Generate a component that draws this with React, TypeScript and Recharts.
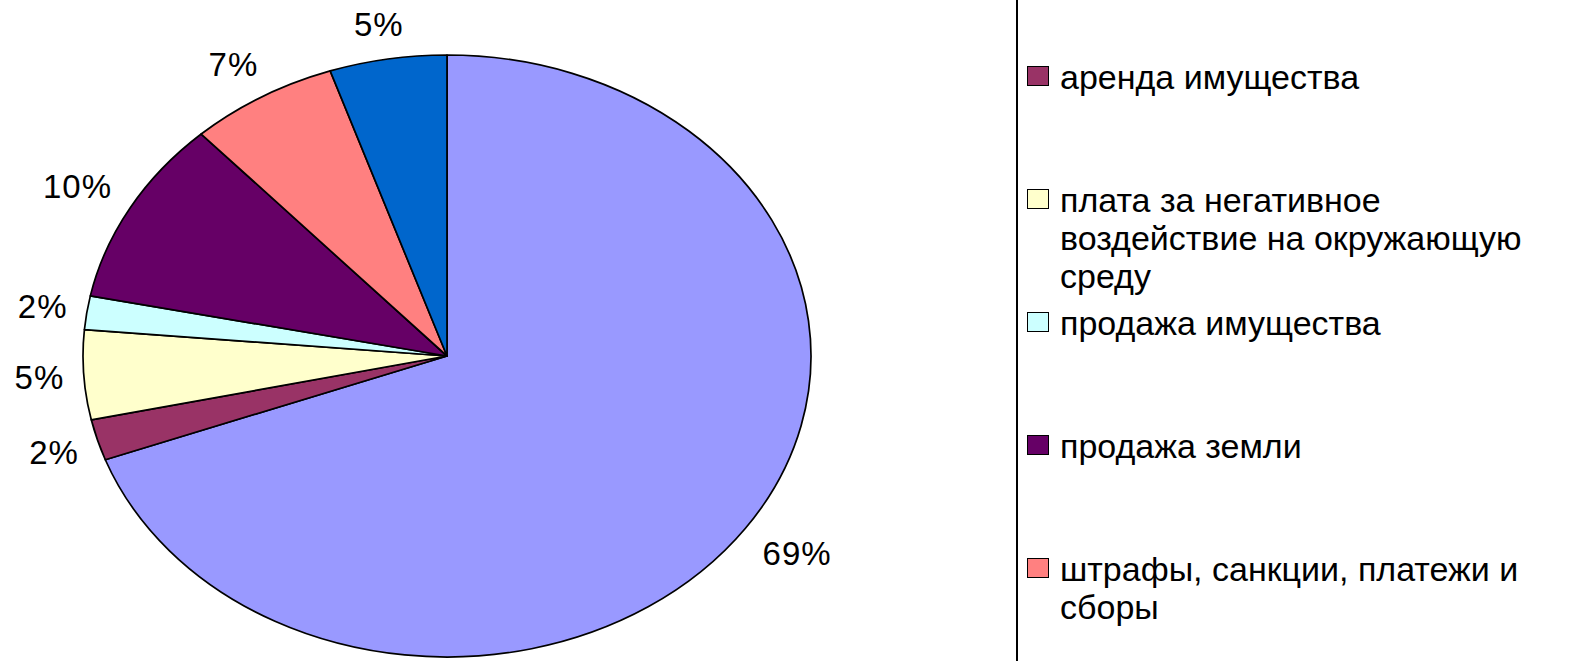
import { PieChart, Pie, Cell, Legend } from 'recharts';

const names = [
  'аренда земли',
  'аренда имущества',
  'плата за негативное воздействие на окружающую среду',
  'продажа имущества',
  'продажа земли',
  'штрафы, санкции, платежи и сборы',
  'прочие доходы',
];
// shares in %
const shares = [69.4, 2.2, 4.8, 1.8, 10.0, 6.6, 5.2];
const colors = ['#9999FF', '#993366', '#FFFFCC', '#CCFFFF', '#660066', '#FF8080', '#0066CC'];

const data = names.map((name, i) => ({ name, value: shares[i] }));

// pie is drawn as an ellipse: horizontal radius stretched
const STRETCH = 364 / 301;
const RAD = Math.PI / 180;
const LABEL_FONT = 33;

function ellipsePoint(cx: number, cy: number, r: number, angle: number) {
  return [cx + r * STRETCH * Math.cos(-angle * RAD), cy + r * Math.sin(-angle * RAD)];
}

function EllipseSector(props: any) {
  const { cx, cy, outerRadius, startAngle, endAngle, fill } = props;
  const [x1, y1] = ellipsePoint(cx, cy, outerRadius, startAngle);
  const [x2, y2] = ellipsePoint(cx, cy, outerRadius, endAngle);
  const large = Math.abs(endAngle - startAngle) > 180 ? 1 : 0;
  const sweep = startAngle > endAngle ? 1 : 0;
  const d = `M${cx},${cy} L${x1},${y1} A${outerRadius * STRETCH},${outerRadius} 0 ${large} ${sweep} ${x2},${y2} Z`;
  return <path d={d} fill={fill} stroke="#000" strokeWidth={1.7} strokeLinejoin="round" />;
}

const clamp = (v: number) => Math.max(-1, Math.min(1, v));

function renderLabel(props: any) {
  const { cx, cy, midAngle, outerRadius, percent } = props;
  const text = `${Math.round(percent * 100)}%`;
  const w = text.length * 22.5;
  const h = 34;
  // nearest corner of the label box sits just outside the ellipse
  const [ax, ay] = ellipsePoint(cx, cy, outerRadius * 1.06, midAngle);
  const ux = Math.cos(-midAngle * RAD);
  const uy = Math.sin(-midAngle * RAD);
  const x = ax + (w / 2) * clamp(ux * 1.5);
  const y = ay + (h / 2) * clamp(uy * 1.5);
  return (
    <text
      x={x}
      y={y}
      textAnchor="middle"
      dominantBaseline="central"
      fontSize={LABEL_FONT}
      letterSpacing={1}
      fill="#000"
      fontFamily="Liberation Sans, Arial, sans-serif"
    >
      {text}
    </text>
  );
}

function LegendBox({ payload }: any) {
  return (
    <div
      style={{
        borderLeft: '2px solid #000',
        height: 900,
        paddingTop: 35,
        boxSizing: 'border-box',
        fontFamily: 'Liberation Sans, Arial, sans-serif',
        fontSize: 34,
        lineHeight: '38px',
        color: '#000',
        textAlign: 'left',
      }}
    >
      {(payload || []).map((entry: any, i: number) => (
        <div key={i} style={{ display: 'flex', height: 123, alignItems: 'flex-start' }}>
          <span
            style={{
              width: 20,
              height: 18,
              marginTop: 8,
              marginLeft: 9,
              marginRight: 11,
              flexShrink: 0,
              background: entry.color,
              border: '1.5px solid #000',
            }}
          />
          <span style={{ width: 490 }}>{entry.value}</span>
        </div>
      ))}
    </div>
  );
}

export default function App() {
  return (
    <div style={{ position: 'absolute', left: 0, top: 0, width: 1578, height: 661, overflow: 'hidden', background: '#fff' }}>
      <PieChart width={1578} height={661} margin={{ top: 0, right: 0, bottom: 0, left: 0 }}>
        <Pie
          data={data}
          dataKey="value"
          nameKey="name"
          cx={447}
          cy={356}
          outerRadius={301}
          startAngle={90}
          endAngle={-270}
          shape={EllipseSector}
          label={renderLabel}
          labelLine={false}
          isAnimationActive={false}
        >
          {data.map((d, i) => (
            <Cell key={d.name} fill={colors[i]} />
          ))}
        </Pie>
        <Legend
          content={<LegendBox />}
          itemSorter={(item: any) => names.indexOf(item.value)}
          wrapperStyle={{ position: 'absolute', left: 1016, top: -100, width: 600, height: 900, bottom: 'auto', right: 'auto' }}
        />
      </PieChart>
    </div>
  );
}
